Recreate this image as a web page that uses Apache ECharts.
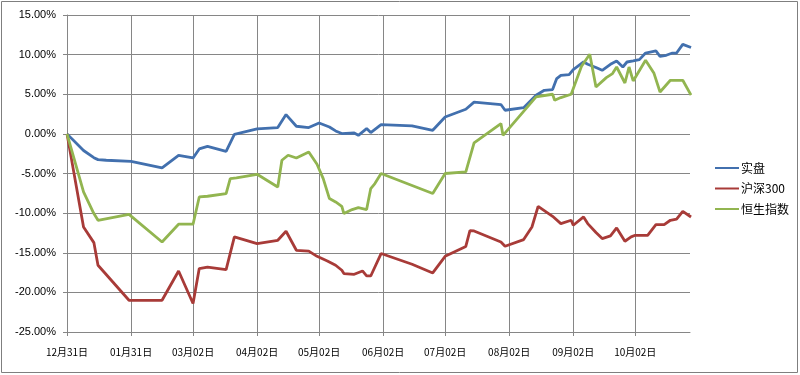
<!DOCTYPE html>
<html>
<head>
<meta charset="utf-8">
<script src="https://cdn.jsdelivr.net/npm/echarts@6/dist/echarts.min.js"></script>
<style>html,body{margin:0;padding:0;background:#fff;}#c{width:800px;height:375px;}</style>
</head>
<body>
<div id="c"></div>
<script>
// x positions are days after 12月31日
var xTickDays = [0, 31, 61, 92, 122, 153, 183, 214, 245, 275];
var xTickLabels = ['12月31日', '01月31日', '03月02日', '04月02日', '05月02日', '06月02日', '07月02日', '08月02日', '09月02日', '10月02日'];
var yTicks = [-25, -20, -15, -10, -5, 0, 5, 10, 15];

var seriesNames = ['实盘', '沪深300', '恒生指数'];

var realDays = [0, 8, 13, 15, 19, 31, 46, 54, 61, 64, 68, 77, 81, 92, 102, 106, 111, 117, 122, 127, 130, 133, 139, 141, 145, 147, 152, 167, 177, 183, 193, 197, 210, 212, 221, 227, 231, 235, 237, 239, 243, 245, 250, 252, 256, 259, 263, 266, 269, 271, 274, 277, 280, 285, 287, 290, 293, 295, 298, 302];
var realVals = [0, -2.1, -3.0, -3.25, -3.33, -3.46, -4.3, -2.7, -3.04, -1.9, -1.57, -2.2, -0.05, 0.62, 0.8, 2.43, 0.96, 0.8, 1.38, 0.87, 0.37, 0.04, 0.11, -0.18, 0.67, 0.16, 1.17, 1.0, 0.45, 2.13, 3.1, 4.0, 3.7, 2.98, 3.3, 4.87, 5.5, 5.59, 6.98, 7.39, 7.48, 8.11, 9.07, 8.78, 8.37, 8.02, 8.78, 9.2, 8.44, 9.07, 9.2, 9.37, 10.2, 10.46, 9.79, 9.92, 10.2, 10.2, 11.3, 10.89];

var hs300Days = [0, 8, 13, 15, 30, 46, 54, 61, 64, 68, 77, 81, 92, 102, 106, 111, 117, 121, 126, 130, 133, 134, 139, 143, 145, 147, 152, 167, 177, 183, 193, 195, 197, 210, 212, 221, 225, 228, 235, 239, 244, 245, 250, 252, 256, 259, 263, 266, 270, 273, 275, 281, 285, 289, 292, 295, 298, 302];
var hs300Vals = [0, -11.75, -13.72, -16.58, -21.0, -21.0, -17.3, -21.41, -17.0, -16.8, -17.12, -13.0, -13.84, -13.43, -12.29, -14.69, -14.8, -15.45, -16.04, -16.58, -17.21, -17.63, -17.72, -17.3, -17.93, -17.93, -15.1, -16.45, -17.55, -15.45, -14.2, -12.2, -12.25, -13.64, -14.18, -13.34, -11.75, -9.14, -10.4, -11.32, -10.9, -11.53, -10.48, -11.32, -12.45, -13.21, -12.88, -11.87, -13.55, -13.0, -12.8, -12.8, -11.45, -11.45, -10.9, -10.77, -9.77, -10.49];

var hsiDays = [0, 8, 13, 15, 30, 46, 54, 61, 64, 68, 77, 79, 82, 92, 102, 104, 107, 111, 117, 121, 124, 127, 130, 133, 134, 138, 141, 145, 147, 149, 152, 177, 183, 193, 197, 210, 211, 227, 235, 236, 239, 244, 249, 253, 256, 261, 264, 266, 270, 272, 274, 280, 284, 287, 292, 298, 302];
var hsiVals = [0, -7.33, -10.06, -10.9, -10.15, -13.64, -11.4, -11.4, -7.96, -7.87, -7.53, -5.64, -5.56, -5.1, -6.7, -3.33, -2.7, -3.04, -2.28, -3.84, -5.64, -8.16, -8.59, -9.14, -10.06, -9.55, -9.3, -9.55, -6.9, -6.27, -5.0, -7.53, -5.0, -4.8, -1.15, 1.3, -0.18, 4.66, 5.0, 4.24, 4.58, 5.0, 8.53, 10.04, 5.92, 7.1, 7.61, 8.44, 6.42, 8.44, 6.68, 9.29, 7.69, 5.29, 6.76, 6.76, 4.9];

var colors = ['#4270AE', '#A83B38', '#92B550'];

function pairs(xs, ys) {
  return xs.map(function (x, i) { return [x, ys[i]]; });
}

var chart = echarts.init(document.getElementById('c'), null, { renderer: 'canvas' });
var gridColor = '#868686';
var option = {
  animation: false,
  backgroundColor: '#ffffff',
  color: colors,
  textStyle: { fontFamily: 'Liberation Sans, Arial, sans-serif' },
  grid: { left: 67, right: 110, top: 15, bottom: 43, containLabel: false },
  graphic: [{
    type: 'rect',
    shape: { x: 1.5, y: 1.5, width: 796, height: 371 },
    style: { fill: 'none', stroke: '#7f7f7f', lineWidth: 1 },
    silent: true
  }],
  legend: {
    orient: 'vertical',
    left: 710,
    top: 157,
    itemWidth: 24,
    itemHeight: 14,
    itemGap: 8.5,
    icon: 'path://M0,0 L24,0 L24,2 L0,2 Z',
    data: seriesNames,
    textStyle: { fontSize: 12, color: '#000', fontFamily: 'Noto Sans CJK SC, sans-serif', padding: [0, 0, 0, -3] }
  },
  xAxis: {
    type: 'value',
    min: 0,
    max: 301.5,
    axisLine: { show: true, onZero: false, lineStyle: { color: gridColor, width: 1 } },
    axisTick: { show: true, inside: false, length: 4, customValues: xTickDays, lineStyle: { color: gridColor } },
    splitLine: { show: true, lineStyle: { color: gridColor, width: 1 } },
    axisLabel: {
      customValues: xTickDays,
      margin: 15,
      fontSize: 10,
      color: '#000',
      fontFamily: 'Noto Sans CJK SC, sans-serif',
      formatter: function (v) {
        var i = xTickDays.indexOf(v);
        return i >= 0 ? xTickLabels[i] : '';
      }
    }
  },
  yAxis: {
    type: 'value',
    min: yTicks[0],
    max: yTicks[yTicks.length - 1],
    interval: 5,
    axisLine: { show: true, lineStyle: { color: gridColor, width: 1 } },
    axisTick: { show: true, length: 4, lineStyle: { color: gridColor } },
    splitLine: { show: true, lineStyle: { color: gridColor, width: 1 } },
    axisLabel: {
      margin: 11,
      fontSize: 11,
      color: '#000',
      formatter: function (v) { return v.toFixed(2) + '%'; }
    }
  },
  series: [
    { name: seriesNames[0], type: 'line', data: pairs(realDays, realVals), symbol: 'none', lineStyle: { width: 2.8 } },
    { name: seriesNames[1], type: 'line', data: pairs(hs300Days, hs300Vals), symbol: 'none', lineStyle: { width: 2.8 } },
    { name: seriesNames[2], type: 'line', data: pairs(hsiDays, hsiVals), symbol: 'none', lineStyle: { width: 2.8 } }
  ]
};
chart.setOption(option);
</script>
</body>
</html>
